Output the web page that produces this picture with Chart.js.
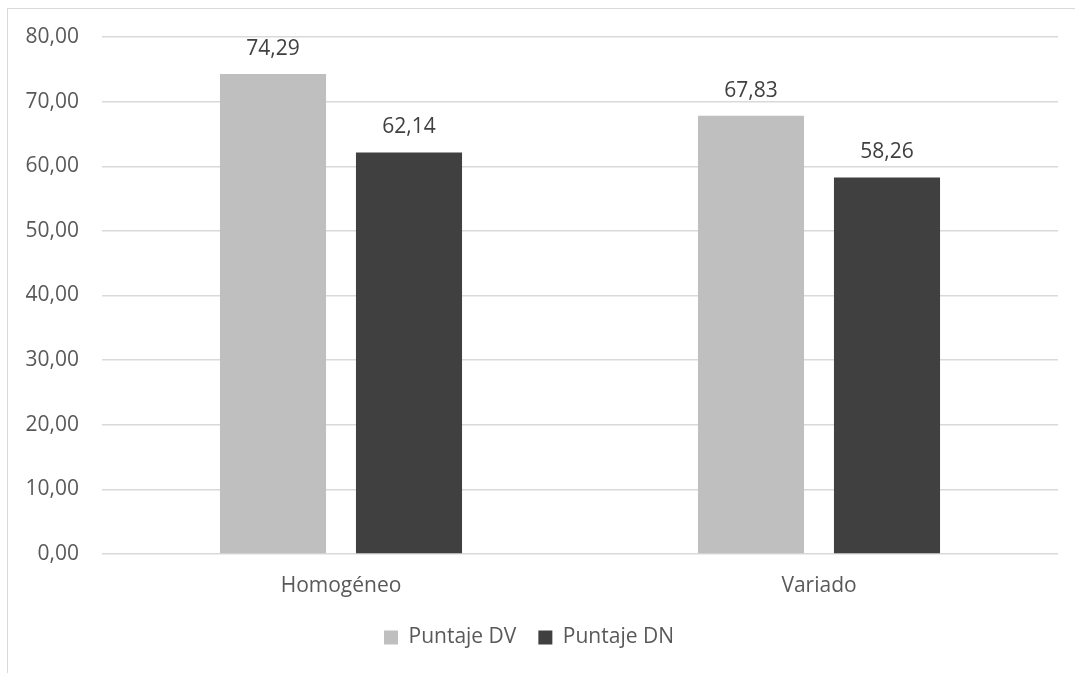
<!DOCTYPE html>
<html>
<head>
<meta charset="utf-8">
<script src="https://cdn.jsdelivr.net/npm/chart.js@4/dist/chart.umd.min.js"></script>
<style>
  html, body { margin: 0; padding: 0; background: #ffffff; }
  #wrap { position: relative; width: 1075px; height: 673px; overflow: hidden; }
  #frame { position: absolute; left: 7px; top: 8px; width: 1200px; height: 800px; border: 1px solid #d9d9d9; box-sizing: border-box; }
  canvas { position: absolute; left: 0; top: 0; }
</style>
</head>
<body>
<div id="wrap">
  <div id="frame"></div>
  <canvas id="chart" width="1075" height="673"></canvas>
</div>
<script>
const categories = ['Homogéneo', 'Variado'];
const seriesNames = ['Puntaje DV', 'Puntaje DN'];
const puntajeDV = [74.29, 67.83];
const puntajeDN = [62.14, 58.26];
const yTicks = [0, 10, 20, 30, 40, 50, 60, 70, 80];

const fmt = v => v.toFixed(2).replace('.', ',');
const textColor = '#595959';
const fontFamily = "'Open Sans', 'Noto Sans', sans-serif";
const fontSize = 21;

// Draws the value above each bar
const valueLabels = {
  id: 'valueLabels',
  afterDatasetsDraw(chart) {
    const ctx = chart.ctx;
    ctx.save();
    ctx.font = fontSize + 'px ' + fontFamily;
    ctx.fillStyle = '#404040';
    ctx.textAlign = 'center';
    ctx.textBaseline = 'middle';
    chart.data.datasets.forEach((ds, i) => {
      chart.getDatasetMeta(i).data.forEach((bar, j) => {
        ctx.fillText(fmt(ds.data[j]), bar.x, bar.y - 25);
      });
    });
    ctx.restore();
  }
};

new Chart(document.getElementById('chart'), {
  type: 'bar',
  data: {
    labels: categories,
    datasets: [
      { label: seriesNames[0], data: puntajeDV, backgroundColor: '#bfbfbf' },
      { label: seriesNames[1], data: puntajeDN, backgroundColor: '#404040' }
    ]
  },
  options: {
    responsive: false,
    animation: false,
    devicePixelRatio: 1,
    categoryPercentage: 0.569,
    barPercentage: 0.78,
    layout: { padding: { left: 0, right: 17, top: 37, bottom: 15 } },
    plugins: {
      legend: {
        position: 'bottom',
        labels: {
          boxWidth: 14, boxHeight: 14, padding: 22,
          color: textColor,
          font: { size: fontSize, family: fontFamily }
        }
      },
      tooltip: { enabled: false }
    },
    scales: {
      x: {
        grid: { display: false },
        border: { display: false },
        afterFit: s => { s.height = 51; },
        ticks: { color: textColor, font: { size: fontSize, family: fontFamily }, padding: 11 }
      },
      y: {
        min: 0, max: 80,
        afterBuildTicks: s => { s.ticks = yTicks.map(v => ({ value: v })); },
        afterFit: s => { s.width = 102; },
        grid: { color: '#d9d9d9', lineWidth: 1.5, drawTicks: false },
        border: { display: false },
        ticks: {
          color: textColor, padding: 23,
          font: { size: fontSize, family: fontFamily },
          callback: v => fmt(v)
        }
      }
    }
  },
  plugins: [valueLabels]
});
</script>
</body>
</html>
